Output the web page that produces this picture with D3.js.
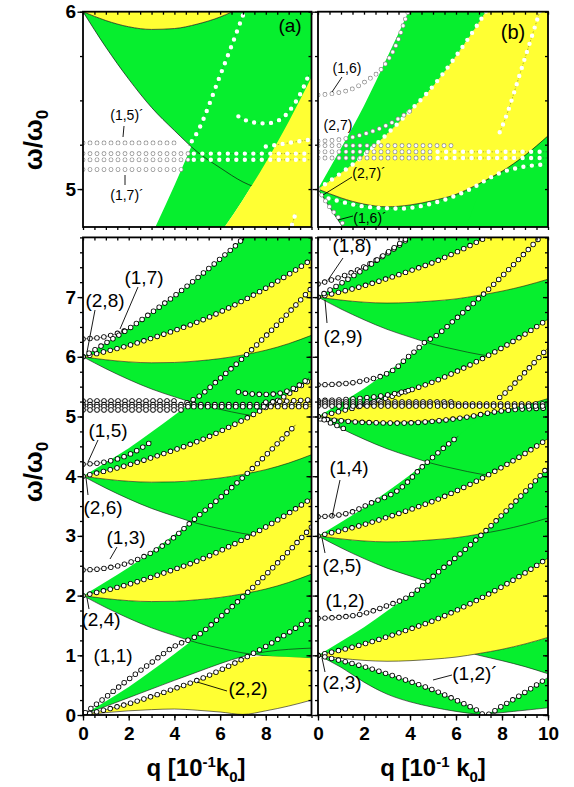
<!DOCTYPE html>
<html>
<head>
<meta charset="utf-8">
<title>Collective modes in a modulated bilayer</title>
<script src="https://d3js.org/d3.v7.min.js"></script>
<style>
  body { margin: 0; background: #fff; }
  svg text { font-family: "Liberation Sans", Arial, Helvetica, sans-serif; }
</style>
</head>
<body>
<script>
// ---- data ------------------------------------------------------------
// q grid (units of 0.1 k0) and continuum edges, as offsets from the fan origin
var qGrid = [0, 1, 2, 3, 4, 5, 6, 7, 8, 9, 10];
var offA  = [0, 0.23, 0.47, 0.74, 1.02, 1.32, 1.64, 1.98, 2.35, 2.74, 3.15];
var offB  = [0, 0.09, 0.19, 0.31, 0.44, 0.58, 0.75, 0.94, 1.15, 1.38, 1.63];
var offCa = [0, -0.05, -0.085, -0.10, -0.095, -0.07, -0.03, 0.03, 0.11, 0.22, 0.36];
var offCb = [0, -0.05, -0.085, -0.10, -0.09, -0.065, -0.03, 0.03, 0.10, 0.19, 0.30];
var offD  = [0, -0.20, -0.38, -0.54, -0.67, -0.79, -0.88, -0.96, -1.01, -1.04, -1.05];
var basesA = [2, 4, 6];
var basesB = [3, 5, 7];

// panel (a), fan starting at omega = 0
var aLow0  = [0, 0.145, 0.29, 0.435, 0.58, 0.72, 0.86, 0.98, 1.06, 1.10, 1.12];
var aC0abs = [0, 0.04, 0.07, 0.09, 0.10, 0.08, 0.05, 0.01, 0.07, 0.15, 0.25];
var aY0top = [0, 0.09, 0.19, 0.31, 0.44, 0.58, 0.75, 0.94, 0.99, 0.97, 0.95];

// panel (b), regions around omega = 1
var bLLq  = [0, 1, 2, 3, 4, 5, 6, 7, 7.25];
var bLLlo = [1, 0.80, 0.55, 0.35, 0.22, 0.13, 0.06, 0.01, 0];
var bLLhi = [1, 0.91, 0.81, 0.69, 0.56, 0.42, 0.25, 0.06, 0];
var bBRq  = [7.25, 7.5, 8, 8.5, 9, 9.5, 10];
var bBRlo = [0, 0.02, 0.04, 0.06, 0.08, 0.10, 0.12];
var bBRhi = [0, 0.04, 0.15, 0.26, 0.38, 0.50, 0.63];
var bR1q  = [6.8, 7, 8, 9, 10];
var bR1lo = [1.02, 1.00, 0.91, 0.81, 0.69];
var bR1hi = [1.02, 1.03, 1.10, 1.19, 1.30];

// mode curves (open circles), panel (a)
var c11 = [[0.1,0.04],[1,0.3],[2,0.6],[3,0.88],[4,1.15],[5,1.33],[6,1.64],[7,1.98],[8,2.35],[9,2.74],[10,3.15]];
var c13 = [[0,2.43],[1,2.46],[2,2.55],[3,2.72],[4,2.98],[4.7,3.22],[5,3.32],[6,3.64],[7,3.98],[8,4.35],[9,4.74],[9.3,4.86]];
var c15 = [[0,4.2],[1,4.24],[2,4.36],[3,4.58]];
var cA4 = [[4.55,5.23],[5,5.32],[6,5.64],[7,5.98],[8,6.35],[9,6.74],[10,7.15]];
var c17 = [[0,6.3],[1,6.34],[2,6.46]];
var cA6 = [[0,6],[1,6.23],[2,6.47],[3,6.74],[4,7.02],[5,7.32],[6,7.64],[7,7.98],[7.1,8.02]];
var cUa = [[6.8,5.41],[7.3,5.38],[8,5.37],[8.6,5.39],[9.2,5.47],[9.6,5.56],[9.9,5.65]];
var rowA1 = [[0,5.26],[4.1,5.26]];
var rowA2L = [[0,5.2],[4.6,5.2]], rowA2R = [[4.85,5.2],[10,5.2]];
var rowA3L = [[0,5.165],[4.6,5.165]], rowA3R = [[4.85,5.165],[10,5.165]];
var rowA4 = [[0,5.11],[4.3,5.11]];
var rowA5 = [[8,5.24],[10,5.28]];

// mode curves, panel (b)
var cV  = [[0,1],[1,0.91],[2,0.81],[3,0.69],[4,0.56],[5,0.42],[6,0.25],[7,0.06],[7.25,0],[8,0.15],[9,0.38],[10,0.63]];
var c12 = [[0,1.62],[1,1.64],[2,1.7],[3,1.83],[4,2.0],[4.65,2.2],[5,2.32],[6,2.64],[7,2.98],[8,3.35],[9,3.74],[10,4.15]];
var c14 = [[0,3.32],[1.3,3.38],[2.3,3.55],[3.5,3.77],[4.65,4.2],[5,4.32],[6,4.64],[6.1,4.67]];
var cA3 = [[7.9,5.32],[8,5.35],[9,5.74],[10,6.15]];
var c16 = [[0,5.53],[1.4,5.56],[2.1,5.61],[2.84,5.69],[3.42,5.82],[3.86,5.98],[4.3,6.12],[4.7,6.26],[5,6.32],[6,6.64],[7,6.98],[8,7.35],[9,7.74],[9.6,7.98]];
var c18 = [[0,7.22],[1.4,7.4],[2.8,7.68],[3.86,7.96]];
var cA7 = [[0,7],[1,7.23],[2,7.47],[3,7.74],[3.9,8.0]];
var c27 = [[0,5.27],[1,5.28],[2,5.31],[3,5.36],[4,5.44]];
var cUb = [[0.1,4.96],[0.67,4.94],[2.1,4.9],[3.55,4.89],[5,4.92],[6.47,4.99],[7.9,5.09],[9.87,5.14]];
var c27p = [[0,5.0],[0.5,4.9],[1.0,4.82],[1.2,4.78]];
var rowB1 = [[0,5.245],[6,5.245]];
var rowB2L = [[0,5.21],[5,5.21]], rowB2R = [[5.2,5.21],[10,5.21]];
var rowB3L = [[0,5.175],[5,5.175]], rowB3R = [[5.2,5.175],[10,5.175]];

// tick labels
var yLabBot = [0, 1, 2, 3, 4, 5, 6, 7];
var yLabTop = [5, 6];
var xLabA = [0, 2, 4, 6, 8];
var xLabB = [0, 2, 4, 6, 8, 10];

// ---- drawing -------------------------------------------------------------
var GREEN = '#06ef2e', YELLOW = '#ffff33';

var svg = d3.select('body').append('svg').attr('width', 574).attr('height', 787);
var defs = svg.append('defs');

var xa = d3.scaleLinear().domain([0, 10]).range([83, 311.5]);
var xb = d3.scaleLinear().domain([0, 10]).range([318, 548]);
var yTop = d3.scaleLinear().domain([4.786, 6]).range([227, 11.7]);
var yBot = d3.scaleLinear().domain([0, 8]).range([715, 237.4]);

function band(base, lo, hi) { return qGrid.map(function (q, i) { return [q, base + lo[i], base + hi[i]]; }); }
function curve(base, off) { return qGrid.map(function (q, i) { return [q, base + off[i]]; }); }
function zip3(qs, lo, hi) { return qs.map(function (q, i) { return [q, lo[i], hi[i]]; }); }
function zip2(qs, v) { return qs.map(function (q, i) { return [q, v[i]]; }); }

var layersA = [].concat(
  [{ fill: GREEN, d: zip3(qGrid, aLow0, offA) }],
  basesA.map(function (b) { return { fill: GREEN, d: band(b, offD, offCa) }; }),
  basesA.map(function (b) { return { fill: GREEN, d: band(b, offB, offA) }; }),
  [{ line: zip2(qGrid, aLow0) }],
  basesA.map(function (b) { return { line: curve(b, offD) }; }),
  [{ fill: YELLOW, d: zip3(qGrid, aC0abs, aY0top) }],
  basesA.map(function (b) { return { fill: YELLOW, d: band(b, offCa, offB) }; }),
  [{ line: zip2(qGrid, aC0abs) }],
  basesA.map(function (b) { return { line: curve(b, offCa) }; })
);

var layersB = [].concat(
  [{ fill: GREEN, d: zip3(bLLq, bLLlo, bLLhi) },
   { fill: GREEN, d: zip3(bBRq, bBRlo, bBRhi) },
   { fill: GREEN, d: zip3(bR1q, bR1lo, bR1hi) }],
  basesB.map(function (b) { return { fill: GREEN, d: band(b, offD, offCb) }; }),
  basesB.map(function (b) { return { fill: GREEN, d: band(b, offB, offA) }; }),
  [{ line: zip2(bLLq, bLLlo) }, { line: zip2(bBRq, bBRlo) }, { line: zip2(bR1q, bR1lo) }],
  basesB.map(function (b) { return { line: curve(b, offD) }; }),
  [1].concat(basesB).map(function (b) { return { fill: YELLOW, d: band(b, offCb, offB) }; }),
  [{ fill: GREEN, d: band(1, offB, offA) }],
  [1].concat(basesB).map(function (b) { return { line: curve(b, offCb) }; })
);

var circA = [
  { d: curve(0, offB) }, { d: curve(2, offB) }, { d: curve(4, offB) }, { d: curve(6, offB) },
  { d: c11 }, { d: c13, top: 'dot' }, { d: c15 }, { d: cA4, top: 'dot' }, { d: c17 }, { d: cA6 },
  { d: rowA1, top: 'open' }, { d: rowA2L, top: 'open' }, { d: rowA2R, top: 'dot' },
  { d: rowA3L, top: 'open' }, { d: rowA3R, top: 'dot' }, { d: rowA4, top: 'open' },
  { d: rowA5, top: 'dot' }, { d: cUa, top: 'dot' }
];
var circB = [
  { d: curve(1, offB) }, { d: curve(3, offB) }, { d: curve(5, offB), top: 'dot' }, { d: curve(7, offB) },
  { d: cV }, { d: c12 }, { d: c14 }, { d: cA3, top: 'dot' }, { d: c16, top: 'open' },
  { d: c18 }, { d: cA7 }, { d: c27, top: 'open' }, { d: cUb, top: 'dot' }, { d: c27p, top: 'open' },
  { d: rowB1, top: 'open' }, { d: rowB2L, top: 'open' }, { d: rowB2R, top: 'dot' },
  { d: rowB3L, top: 'open' }, { d: rowB3R, top: 'dot' }
];

function drawPanel(id, x, y, layers, circles, isTop) {
  var x0 = x.range()[0], x1 = x.range()[1], yb = y.range()[0], yt = y.range()[1];
  defs.append('clipPath').attr('id', id).append('rect')
    .attr('x', x0).attr('y', yt).attr('width', x1 - x0).attr('height', yb - yt);
  var g = svg.append('g').attr('clip-path', 'url(#' + id + ')');
  g.append('rect').attr('x', x0).attr('y', yt).attr('width', x1 - x0).attr('height', yb - yt).attr('fill', '#fff');

  var ar = d3.area().x(function (d) { return x(d[0]); })
    .y0(function (d) { return y(d[1]); }).y1(function (d) { return y(d[2]); })
    .curve(d3.curveMonotoneX);
  var ln = d3.line().x(function (d) { return x(d[0]); }).y(function (d) { return y(d[1]); })
    .curve(d3.curveMonotoneX);

  layers.forEach(function (L) {
    if (L.fill) g.append('path').datum(L.d).attr('d', ar).attr('fill', L.fill);
    else g.append('path').datum(L.line).attr('d', ln).attr('fill', 'none')
      .attr('stroke', '#111').attr('stroke-width', isTop ? 0.7 : 0.6);
  });

  circles.forEach(function (c) {
    if (isTop) {
      if (!c.top) return;
      if (c.top === 'dot') {
        g.append('path').datum(c.d).attr('d', ln).attr('fill', 'none')
          .attr('stroke', '#333').attr('stroke-width', 0.4).attr('stroke-dasharray', '1.5 1.5');
        g.append('path').datum(c.d).attr('d', ln).attr('fill', 'none')
          .attr('stroke', '#fff').attr('stroke-width', 4.4)
          .attr('stroke-linecap', 'round').attr('stroke-dasharray', '0 8.5');
      } else {
        g.append('path').datum(c.d).attr('d', ln).attr('fill', 'none')
          .attr('stroke', '#8a8a8a').attr('stroke-width', 4.8)
          .attr('stroke-linecap', 'round').attr('stroke-dasharray', '0 7');
        g.append('path').datum(c.d).attr('d', ln).attr('fill', 'none')
          .attr('stroke', '#fff').attr('stroke-width', 3.4)
          .attr('stroke-linecap', 'round').attr('stroke-dasharray', '0 7');
      }
      return;
    }
    g.append('path').datum(c.d).attr('d', ln).attr('fill', 'none')
      .attr('stroke', '#222').attr('stroke-width', 0.6);
    g.append('path').datum(c.d).attr('d', ln).attr('fill', 'none')
      .attr('stroke', '#000').attr('stroke-width', 5.4)
      .attr('stroke-linecap', 'round').attr('stroke-dasharray', '0 7');
    g.append('path').datum(c.d).attr('d', ln).attr('fill', 'none')
      .attr('stroke', '#fff').attr('stroke-width', 3.8)
      .attr('stroke-linecap', 'round').attr('stroke-dasharray', '0 7');
  });

  svg.append('rect').attr('x', x0).attr('y', yt).attr('width', x1 - x0).attr('height', yb - yt)
    .attr('fill', 'none').attr('stroke', '#000').attr('stroke-width', 1.8);
}

drawPanel('ta', xa, yTop, layersA, circA, true);
drawPanel('tb', xb, yTop, layersB, circB, true);
drawPanel('ba', xa, yBot, layersA, circA, false);
drawPanel('bb', xb, yBot, layersB, circB, false);

// ---- axes ---------------------------------------------------------------
function styleAxis(sel) {
  sel.select('.domain').remove();
  sel.selectAll('line').attr('stroke', '#000').attr('stroke-width', 1.3);
  sel.selectAll('text').attr('font-family', '"Liberation Sans", Arial, sans-serif')
    .attr('font-size', 19).attr('font-weight', 'bold').attr('fill', '#000');
}
function addAxis(gen, tx, ty) {
  svg.append('g').attr('transform', 'translate(' + tx + ',' + ty + ')').call(gen).call(styleAxis);
}

var minorY = d3.range(0, 8.01, 0.25);
var minorYTop = [5, 5.25, 5.5, 5.75, 6];
var minorX = d3.range(0, 10.01, 0.5);

[[xa, true], [xb, false]].forEach(function (p) {
  var x = p[0], labelled = p[1];
  var x0 = x.range()[0], x1 = x.range()[1];
  // bottom panels
  addAxis(d3.axisLeft(yBot).tickValues(minorY).tickSize(3).tickFormat(''), x0, 0);
  addAxis(d3.axisLeft(yBot).tickValues(yLabBot).tickSize(5.5).tickPadding(1.5)
    .tickFormat(labelled ? d3.format('d') : ''), x0, 0);
  addAxis(d3.axisLeft(yBot).tickValues(minorY).tickSize(3).tickFormat(''), x1, 0);
  addAxis(d3.axisLeft(yBot).tickValues(yLabBot).tickSize(5).tickFormat(''), x1, 0);
  addAxis(d3.axisBottom(x).tickValues(minorX).tickSize(3).tickFormat(''), 0, 715);
  addAxis(d3.axisBottom(x).tickValues(labelled ? xLabA : xLabB).tickSize(5.5).tickPadding(6)
    .tickFormat(d3.format('d')), 0, 715);
  addAxis(d3.axisBottom(x).tickValues(minorX).tickSize(3).tickFormat(''), 0, 237.4);
  // top panels
  addAxis(d3.axisLeft(yTop).tickValues(minorYTop).tickSize(3).tickFormat(''), x0, 0);
  addAxis(d3.axisLeft(yTop).tickValues(yLabTop).tickSize(5.5).tickPadding(1.5)
    .tickFormat(labelled ? d3.format('d') : ''), x0, 0);
  addAxis(d3.axisLeft(yTop).tickValues(minorYTop).tickSize(3).tickFormat(''), x1, 0);
  addAxis(d3.axisBottom(x).tickValues(minorX).tickSize(3).tickFormat(''), 0, 227);
  addAxis(d3.axisBottom(x).tickValues(minorX).tickSize(3).tickFormat(''), 0, 11.7);
});

// axis titles
function xTitle(cx, gap) {
  var t = svg.append('text').attr('x', cx).attr('y', 776).attr('text-anchor', 'middle')
    .attr('font-size', 24).attr('font-weight', 'bold');
  t.append('tspan').text('q [10');
  t.append('tspan').attr('dy', -9).attr('font-size', 15).text('-1');
  t.append('tspan').attr('dy', 9).text(gap ? '\u00a0k' : 'k');
  t.append('tspan').attr('dy', 6).attr('font-size', 15).text('0');
  t.append('tspan').attr('dy', -6).text(']');
}
xTitle(196, false);
xTitle(433, true);

function yTitle(cy) {
  var t = svg.append('text').attr('transform', 'translate(42,' + cy + ') rotate(-90)')
    .attr('text-anchor', 'middle').attr('font-size', 26).attr('font-weight', 'bold');
  t.append('tspan').text('\u03c9/\u03c9');
  t.append('tspan').attr('dy', 6).attr('font-size', 17).text('0');
}
yTitle(140);
yTitle(472);

// curve labels with leader lines
var labels = [
  { t: '(1,7)', x: 144, y: 277, s: 19, l: [[138, 287], [120, 329]] },
  { t: '(2,8)', x: 105, y: 300, s: 19, l: [[95, 310], [87, 352]] },
  { t: '(1,5)', x: 108, y: 430, s: 19, l: [[98, 440], [88, 462]] },
  { t: '(2,6)', x: 103, y: 507, s: 19, l: [[86, 478], [88, 495]] },
  { t: '(1,3)', x: 126, y: 537, s: 19, l: [[117, 547], [110, 559]] },
  { t: '(2,4)', x: 101, y: 619, s: 19, l: [[87, 598], [89, 609]] },
  { t: '(1,1)', x: 113, y: 655, s: 19 },
  { t: '(2,2)', x: 248, y: 688, s: 19, l: [[227, 691], [197, 682]] },
  { t: '(1,8)', x: 352, y: 245, s: 19, l: [[343, 258], [328, 280]] },
  { t: '(2,9)', x: 343, y: 336, s: 19, l: [[325, 300], [327, 323]] },
  { t: '(1,4)', x: 349, y: 467, s: 19, l: [[340, 480], [332, 517]] },
  { t: '(2,5)', x: 342, y: 565, s: 19, l: [[322, 538], [325, 553]] },
  { t: '(1,2)', x: 345, y: 600, s: 19 },
  { t: '(2,3)', x: 342, y: 682, s: 19, l: [[322, 658], [325, 672]] },
  { t: '(1,2)\u00b4', x: 475, y: 673, s: 19, l: [[452, 675], [433, 680]] },
  { t: '(a)', x: 290, y: 25, s: 19 },
  { t: '(1,5)\u00b4', x: 127, y: 115, s: 14, l: [[124, 126], [123, 137]] },
  { t: '(1,7)\u00b4', x: 127, y: 195, s: 14, l: [[125, 175], [125, 185]] },
  { t: '(b)', x: 513, y: 32, s: 20 },
  { t: '(1,6)', x: 347, y: 68, s: 14, l: [[342, 77], [332, 92]] },
  { t: '(2,7)', x: 338, y: 125, s: 14 },
  { t: '(2,7)\u00b4', x: 369, y: 173, s: 14, l: [[352, 177], [323, 195]] },
  { t: '(1,6)\u00b4', x: 370, y: 218, s: 14, l: [[353, 216], [338, 220]] }
];
labels.forEach(function (L) {
  svg.append('text').attr('x', L.x).attr('y', L.y).attr('text-anchor', 'middle')
    .attr('dominant-baseline', 'central').attr('font-size', L.s).attr('fill', '#000').text(L.t);
  if (L.l) svg.append('line').attr('x1', L.l[0][0]).attr('y1', L.l[0][1])
    .attr('x2', L.l[1][0]).attr('y2', L.l[1][1]).attr('stroke', '#000').attr('stroke-width', 0.9);
});
</script>
</body>
</html>
